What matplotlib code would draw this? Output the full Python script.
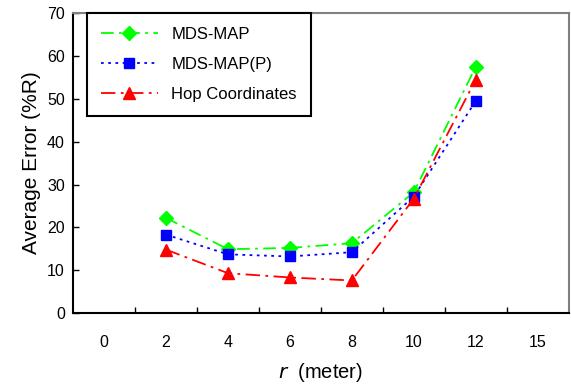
import matplotlib

matplotlib.use("Agg")
import matplotlib.pyplot as plt  # noqa: E402

plt.rcParams["font.family"] = ["Liberation Sans", "DejaVu Sans"]

# category axis (Excel style): labels sit between tick marks
categories = ["0", "2", "4", "6", "8", "10", "12", "15"]
data_cats = ["2", "4", "6", "8", "10", "12"]

mds_map = [22.2, 14.9, 15.2, 16.3, 28.2, 57.5]
mds_map_p = [18.3, 13.7, 13.2, 14.2, 27.2, 49.5]
hop_coords = [14.8, 9.3, 8.3, 7.6, 26.7, 54.5]

fig = plt.figure(figsize=(5.71, 3.86), dpi=100)
ax = fig.add_axes([0.128, 0.189, 0.868, 0.777])

xpos = [categories.index(c) for c in data_cats]

ax.plot(xpos, mds_map, color="#00ff00", lw=1.3, ls=(0, (7, 3, 1.5, 3)),
        marker="D", ms=7, mec="#00ff00", label="MDS-MAP")
ax.plot(xpos, mds_map_p, color="#0000ff", lw=1.3, ls=(0, (1.5, 2.5)),
        marker="s", ms=7, mec="#0000ff", label="MDS-MAP(P)")
ax.plot(xpos, hop_coords, color="#ff0000", lw=1.3, ls=(0, (8, 3, 1.5, 3)),
        marker="^", ms=8, mec="#ff0000", label="Hop Coordinates")

ax.set_xlim(-0.5, len(categories) - 0.5)
ax.set_ylim(0, 70)
ax.set_xticks(range(len(categories)))
ax.set_xticklabels(categories)
ax.set_xticks([i + 0.5 for i in range(len(categories) - 1)], minor=True)
ax.tick_params(axis="x", which="major", length=0, labelsize=11.5, pad=16)
ax.tick_params(axis="x", which="minor", direction="in", length=4, width=1)
ax.set_yticks(range(0, 71, 10))
ax.tick_params(axis="y", direction="in", length=4, width=1, labelsize=11.5, pad=6)

for side in ("left", "bottom"):
    ax.spines[side].set_color("black")
    ax.spines[side].set_linewidth(1.5)
for side in ("top", "right"):
    ax.spines[side].set_color("#808080")
    ax.spines[side].set_linewidth(1.5)

ax.set_ylabel("Average Error (%R)", fontsize=15, labelpad=4)
ax.set_xlabel(r"$\it{r}$  (meter)", fontsize=14.5, labelpad=8)

leg = ax.legend(loc="upper left", bbox_to_anchor=(0.028, 1.0), borderaxespad=0,
                fontsize=12, handlelength=3.4, handletextpad=0.8,
                labelspacing=0.9, borderpad=0.85,
                fancybox=False, framealpha=1, edgecolor="black")
leg.get_frame().set_linewidth(1.5)

fig.savefig("out.png", dpi=100)
